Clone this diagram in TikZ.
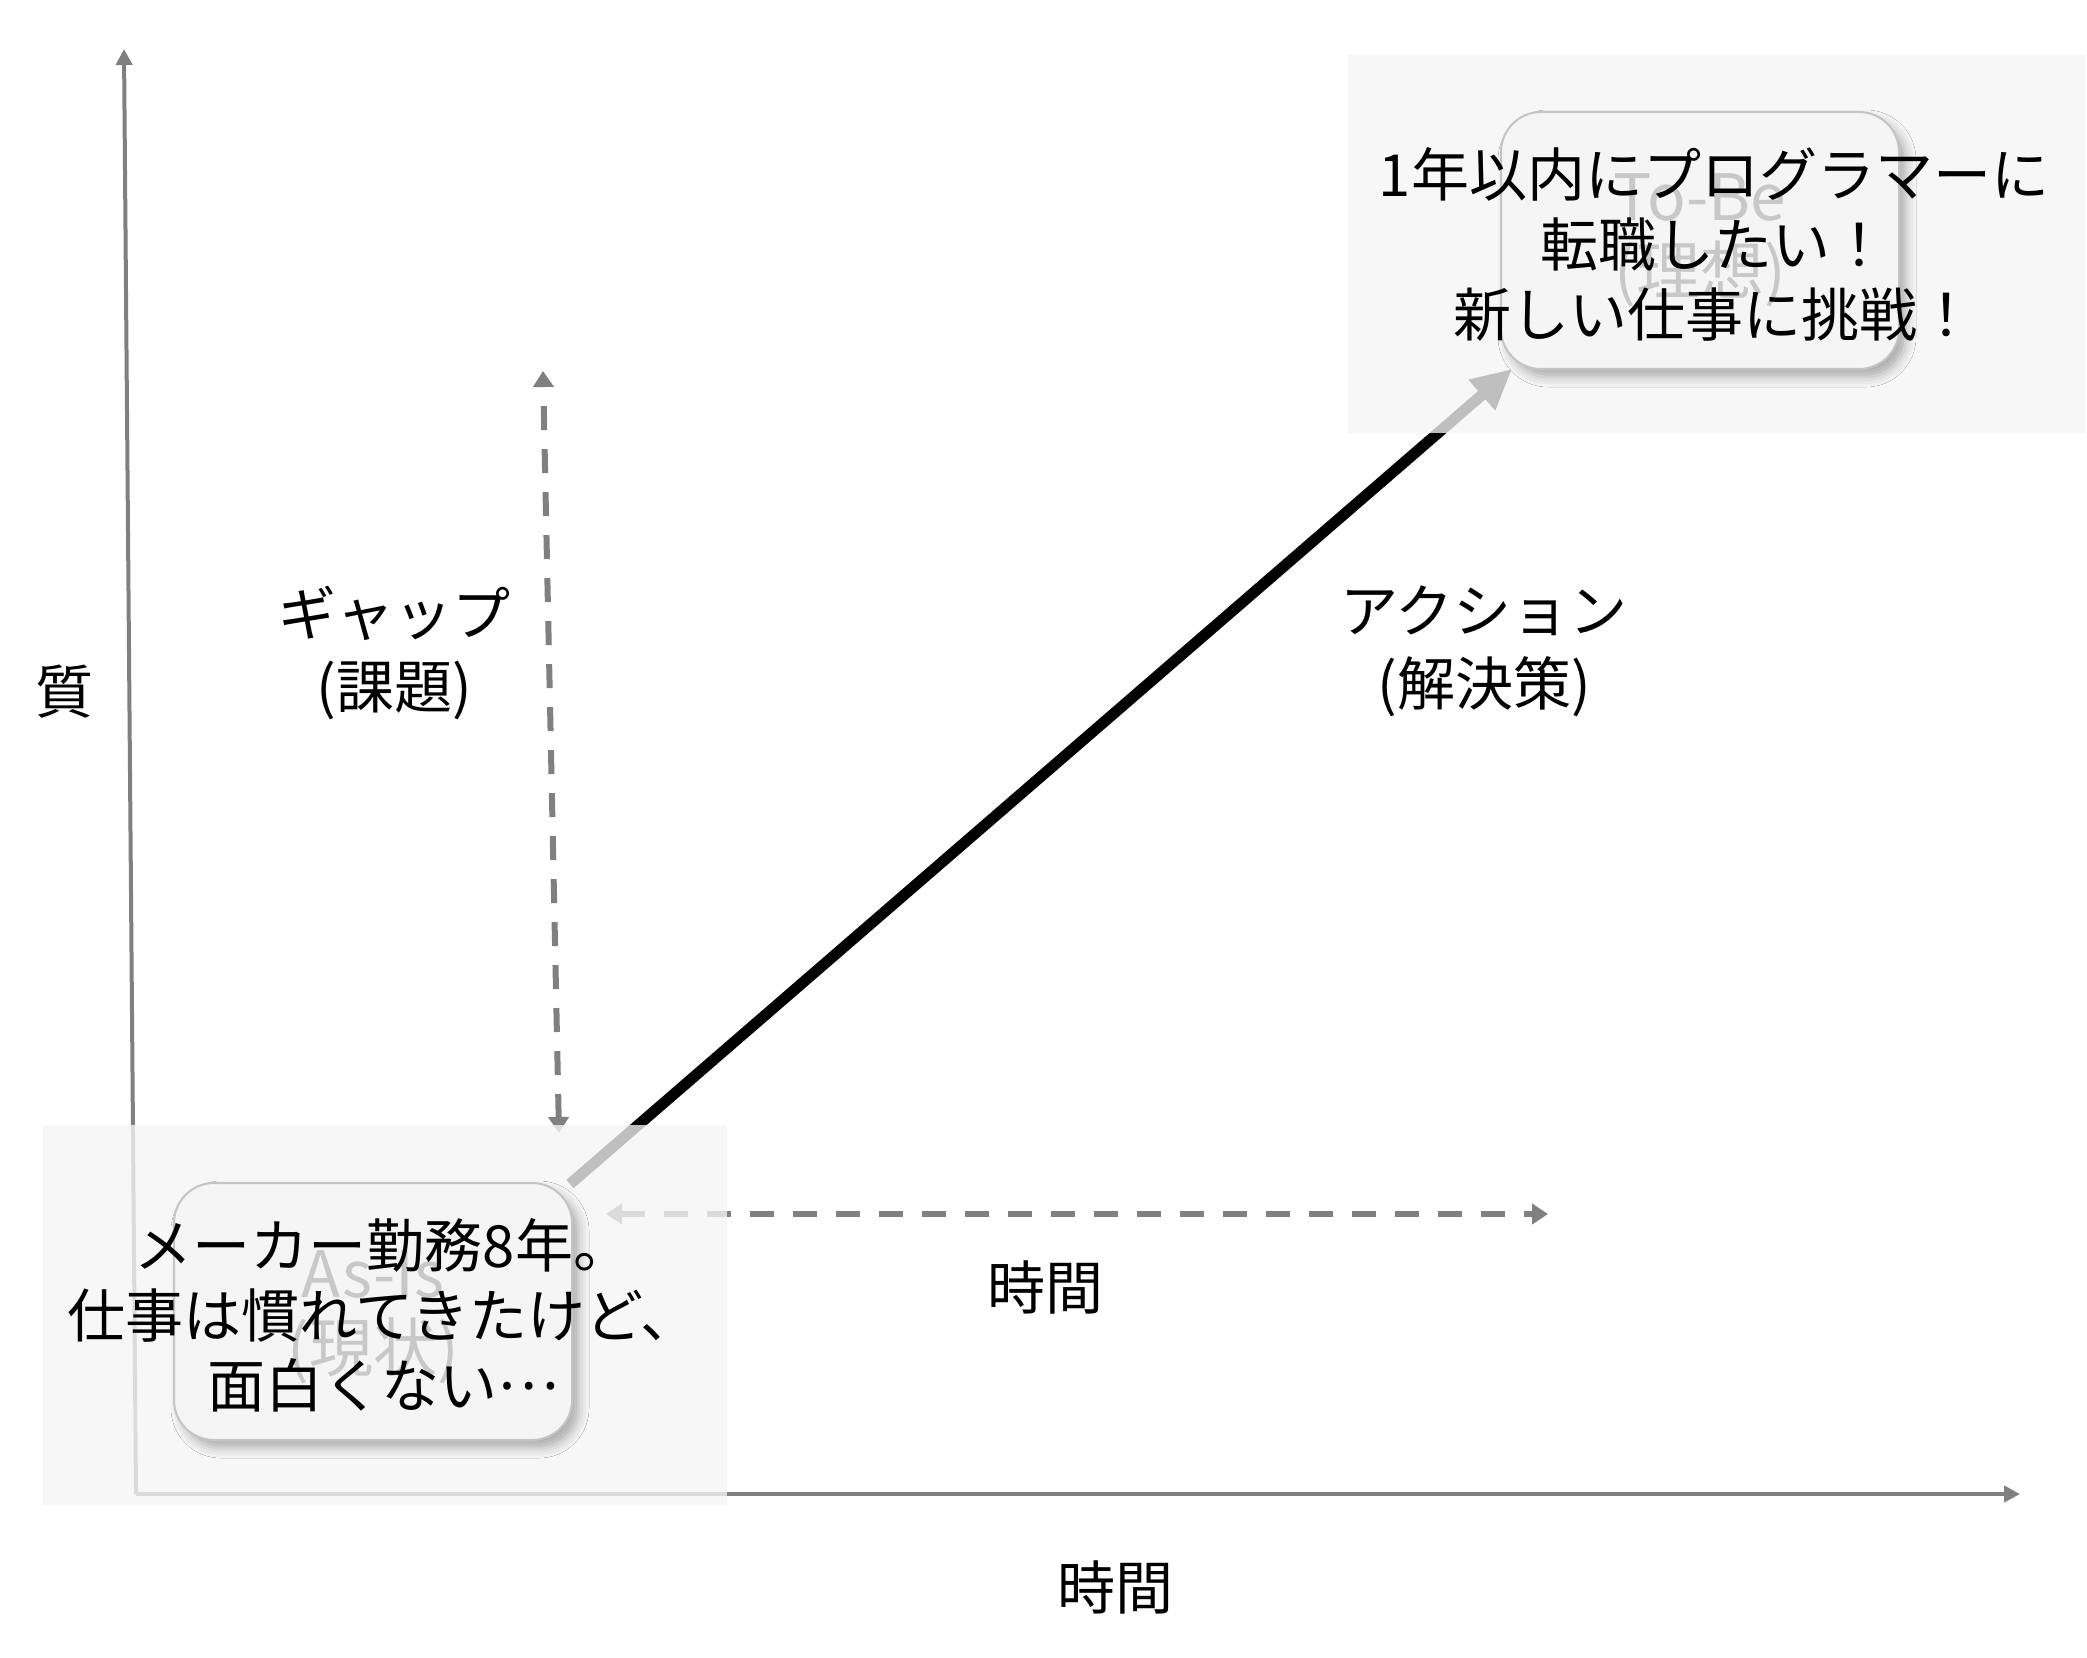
\documentclass[tikz,border=0pt]{standalone}
\usepackage{fontspec}
\setmainfont{Noto Sans CJK JP}
\usetikzlibrary{arrows.meta,shadows.blur}
\definecolor{axisgray}{HTML}{808080}
\definecolor{boxgray}{HTML}{F5F5F5}
\definecolor{edgegray}{HTML}{C4C4C4}
\definecolor{faint}{HTML}{C8C8C8}
\newcommand{\jpdots}{\makebox[1.05em]{\raisebox{0.3em}{…}}}
\begin{document}
\begin{tikzpicture}[x=0.5pt,y=-0.5pt,
  axis/.style={draw=axisgray,line width=2pt,-{Triangle[width=8pt,length=8pt]}},
  dasharrow/.style={draw=axisgray,line width=3pt,dash pattern=on 12pt off 9.5pt,
    {Triangle[width=10pt,length=8pt]}-{Triangle[width=10pt,length=8pt]}},
  actionarrow/.style={draw=black,line width=5.5pt,-{Triangle[width=19pt,length=20pt]}},
  zone/.style={fill=boxgray,fill opacity=0.78,draw=none,inner sep=0pt},
  statebox/.style={rectangle,rounded corners=20pt,draw=edgegray,line width=1pt,fill=boxgray,
    minimum width=199pt,minimum height=128.5pt,inner sep=0pt,
    blur shadow={shadow xshift=3.5pt,shadow yshift=-4pt,shadow blur radius=5pt,shadow opacity=30}},
  faintlabel/.style={text=faint,font=\fontsize{32pt}{37pt}\selectfont,align=center,inner sep=0pt},
  maintext/.style={font=\fontsize{29pt}{35pt}\selectfont,align=center,inner sep=0pt},
  labeltext/.style={font=\fontsize{29pt}{36.5pt}\selectfont,align=center,inner sep=0pt},
]
\useasboundingbox[fill=white] (0,0) rectangle (2087,1658);

% coordinates
\coordinate (ytop) at (124,49);
\coordinate (origin) at (136,1494);
\coordinate (xend) at (2020,1494);
\coordinate (gaptop) at (543,371);
\coordinate (gapbot) at (559,1133);
\coordinate (timeL) at (606,1214);
\coordinate (timeR) at (1548,1214);
\coordinate (actS) at (570,1184);
\coordinate (actE) at (1512,369);

% lines
\draw[axis] (origin) -- (ytop);
\draw[axis] (origin) -- (xend);
\draw[dasharrow] (gapbot) -- (gaptop);
\draw[dasharrow] (timeL) -- (timeR);
\draw[actionarrow] (actS) -- (actE);

% zones
\node[zone,minimum width=342pt,minimum height=190pt] (aszone) at (385,1315) {};
\node[zone,minimum width=368.5pt,minimum height=189pt] (tobezone) at (1716.5,244) {};

% state boxes
\node[statebox] (asis) at (373,1311.5) {};
\node[statebox] (tobe) at (1700,240.5) {};
\node[faintlabel] (asisfaint) at ([yshift=-3pt]asis.center) {As-Is\\(現状)};
\node[faintlabel] (tobefaint) at (tobe.center) {To-Be\\(理想)};

% main texts
\node[maintext] (tobetext) at (1714,244) {1年以内にプログラマーに\\転職したい！\\新しい仕事に挑戦！};
\node[maintext] (asistext) at (383,1315) {メーカー勤務8年。\\仕事は慣れてきたけど、\\面白くない\jpdots};

% labels
\node[labeltext] (gaplabel) at (394,653) {ギャップ\\(課題)};
\node[labeltext] (actlabel) at (1484,651) {アクション\\(解決策)};
\node[labeltext] (qlabel) at (64,692) {質};
\node[labeltext] (timemid) at (1045,1287) {時間};
\node[labeltext] (timebot) at (1115,1587) {時間};
\end{tikzpicture}
\end{document}
